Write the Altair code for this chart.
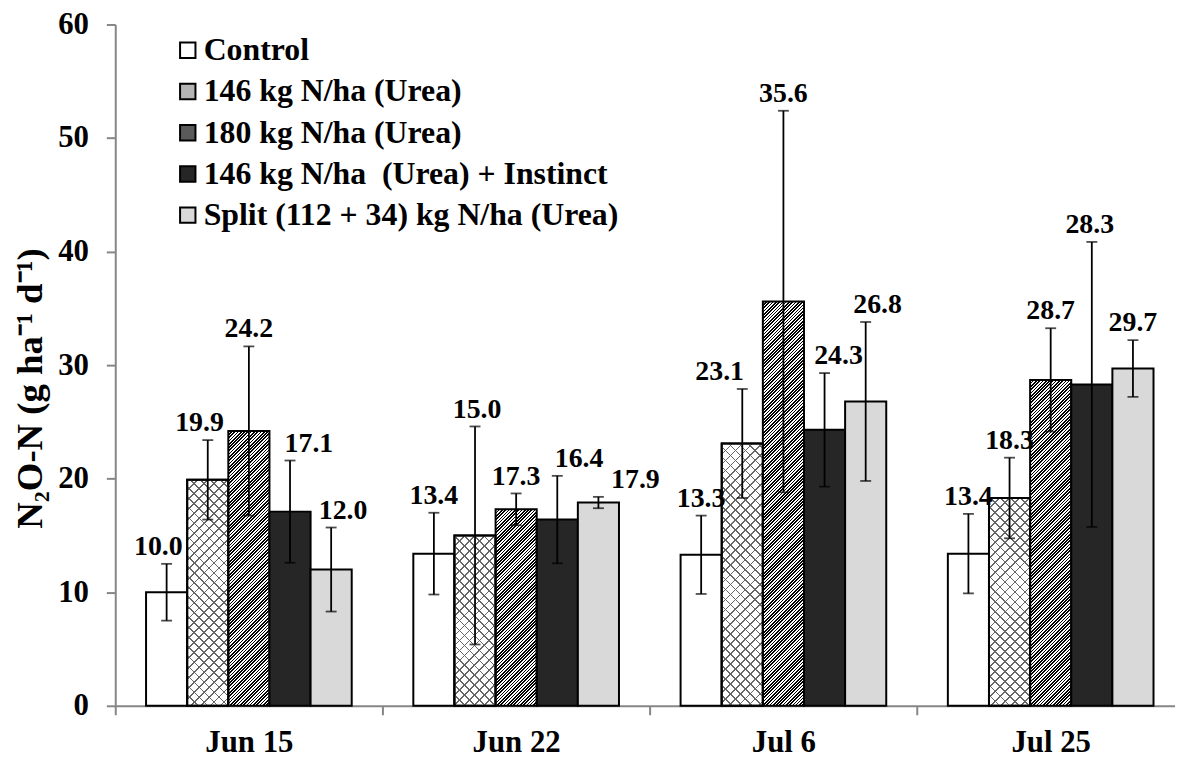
import math
import altair as alt

# ---------------- data ----------------
dates = ["Jun 15", "Jun 22", "Jul 6", "Jul 25"]
series = [
    "Control",
    "146 kg N/ha (Urea)",
    "180 kg N/ha (Urea)",
    "146 kg N/ha\u00a0 (Urea) + Instinct",
    "Split (112 + 34) kg N/ha (Urea)",
]
control = [10.0, 13.4, 13.3, 13.4]
urea146 = [19.9, 15.0, 23.1, 18.3]
urea180 = [24.2, 17.3, 35.6, 28.7]
instinct = [17.1, 16.4, 24.3, 28.3]
split = [12.0, 17.9, 26.8, 29.7]

control_err = [2.5, 3.6, 3.45, 3.5]
urea146_err = [3.5, 9.6, 4.8, 3.55]
urea180_err = [7.45, 1.4, 16.8, 4.55]
instinct_err = [4.5, 3.85, 5.0, 12.55]
split_err = [3.7, 0.5, 7.0, 2.5]

# sideways shift of each value label, in bar widths (as placed in the reference)
control_lshift = [-0.2, 0.0, 0.0, 0.0]
urea146_lshift = [-0.2, 0.05, -0.55, 0.0]
urea180_lshift = [0.0, 0.0, 0.0, 0.0]
instinct_lshift = [0.46, 0.53, 0.34, -0.05]
split_lshift = [0.29, 0.9, 0.29, 0.0]

y_ticks = [0, 10, 20, 30, 40, 50, 60]

values = [control, urea146, urea180, instinct, split]
errors = [control_err, urea146_err, urea180_err, instinct_err, split_err]
lshifts = [control_lshift, urea146_lshift, urea180_lshift, instinct_lshift, split_lshift]

# ---------------- layout / style ----------------
FONT = "Liberation Serif"
W, H = 1067, 686
Y_MAX = 60
PAD_INNER, PAD_OUTER, ALIGN = 0.2305, 0.0978, 0.589
STEP = W / (len(dates) - PAD_INNER + 2 * PAD_OUTER)
BAND = STEP * (1 - PAD_INNER)
BAR_W = BAND / len(series)
PX_PER_UNIT = H / Y_MAX
AXIS_GRAY = "#868686"
legend_colors = ["#ffffff", "#b4b4b4", "#5a5a5a", "#262626", "#d9d9d9"]


def stripes(w, h, period, frac, line, bg, up=True):
    """Linear gradient that draws 45 degree stripes on a w x h box."""
    L = w + h
    k = L / (w * w + h * h)
    if up:
        x1, y1, x2, y2 = 0, 0, k * w, k * h
    else:
        x1, y1, x2, y2 = 0, 1, k * w, 1 - k * h
    stops = []
    i = 0
    while i * period < L:
        a = i * period / L
        b = min(1.0, (i + frac) * period / L)
        c = min(1.0, (i + 1) * period / L)
        stops += [
            {"offset": a, "color": line},
            {"offset": b, "color": line},
            {"offset": b, "color": bg},
            {"offset": c, "color": bg},
        ]
        i += 1
    return {"gradient": "linear", "x1": x1, "y1": y1, "x2": x2, "y2": y2, "stops": stops}


rows = []
for i, d in enumerate(dates):
    for j, s in enumerate(series):
        v = values[j][i]
        e = errors[j][i]
        h = v * PX_PER_UNIT
        if j == 1:
            g1 = stripes(BAR_W, h, 10.0, 0.17, "#666666", "#ffffff", up=True)
            g2 = stripes(BAR_W, h, 10.0, 0.17, "#666666", "rgba(255,255,255,0)", up=False)
        elif j == 2:
            g1 = stripes(BAR_W, h, 3.3, 0.5, "#000000", "#ffffff", up=True)
            g2 = "rgba(0,0,0,0)"
        else:
            g1 = ["#ffffff", None, None, "#262626", "#d9d9d9"][j]
            g2 = "rgba(0,0,0,0)"
        rows.append({
            "date": d, "series": s, "value": v,
            "low": v - e, "high": v + e,
            "label": f"{v:.1f}", "lpos": j + 0.5 + lshifts[j][i],
            "g1": g1, "g2": g2,
        })

data = alt.Data(values=rows)

x_enc = alt.X(
    "date:N", sort=dates,
    scale=alt.Scale(domain=dates, paddingInner=PAD_INNER, paddingOuter=PAD_OUTER, align=ALIGN),
    axis=alt.Axis(
        title=None, labelAngle=0, labelFont=FONT, labelFontSize=31, labelFontWeight="bold",
        labelColor="black", labelPadding=13, domainColor=AXIS_GRAY, domainWidth=2,
        tickColor=AXIS_GRAY, tickWidth=2, tickSize=9, bandPosition=0,
        tickOffset=-PAD_INNER * STEP / 2, labelOffset=PAD_INNER * STEP / 2,
        grid=False,
    ),
)
xo_enc = alt.XOffset(
    "series:N", sort=series,
    scale=alt.Scale(domain=series, paddingInner=0, paddingOuter=0),
)
y_scale = alt.Scale(domain=[0, Y_MAX], nice=False)
y_enc = alt.Y(
    "value:Q", scale=y_scale,
    axis=alt.Axis(
        values=y_ticks, title="N\u2082O-N (g ha\u207b\u00b9 d\u207b\u00b9)",
        titleFont=FONT, titleFontSize=37, titleFontWeight="bold", titleColor="black",
        titlePadding=8, titleY=366,
        labelFont=FONT, labelFontSize=31, labelFontWeight="bold", labelColor="black",
        labelPadding=18, domainColor=AXIS_GRAY, domainWidth=2, tickColor=AXIS_GRAY,
        tickWidth=2, tickSize=9, grid=False,
    ),
)

base = alt.Chart(data).mark_bar(strokeWidth=0).encode(
    x=x_enc, xOffset=xo_enc, y=y_enc,
    color=alt.Color(
        "series:N", sort=series,
        scale=alt.Scale(domain=series, range=legend_colors),
        legend=alt.Legend(
            title=None, orient="none", legendX=57, legendY=10, padding=0,
            symbolType="square", symbolSize=240, symbolStrokeColor="black",
            symbolStrokeWidth=2, symbolOpacity=1, labelFont=FONT, labelFontSize=32,
            labelFontWeight="bold", labelColor="black", labelOffset=0, rowPadding=9.5,
            labelLimit=0,
        ),
    ),
)

hatch1 = alt.Chart(data).mark_bar(stroke="black", strokeWidth=2).encode(
    x=x_enc, xOffset=xo_enc, y=y_enc,
    fill=alt.Fill("g1:N", scale=None),
)

hatch2 = alt.Chart(data).transform_filter(
    alt.datum.series == series[1]
).mark_bar(stroke="black", strokeWidth=2).encode(
    x=x_enc, xOffset=xo_enc, y=y_enc,
    fill=alt.Fill("g2:N", scale=None),
)

err_rule = alt.Chart(data).mark_rule(color="black", strokeWidth=1.8).encode(
    x=x_enc, xOffset=xo_enc, y=alt.Y("low:Q", scale=y_scale), y2="high:Q",
)
cap_low = alt.Chart(data).mark_tick(color="black", size=11, thickness=1.8, orient="horizontal").encode(
    x=x_enc, xOffset=xo_enc, y=alt.Y("low:Q", scale=y_scale),
)
cap_high = alt.Chart(data).mark_tick(color="black", size=11, thickness=1.8, orient="horizontal").encode(
    x=x_enc, xOffset=xo_enc, y=alt.Y("high:Q", scale=y_scale),
)
labels = alt.Chart(data).mark_text(
    font=FONT, fontSize=28, fontWeight="bold", color="black", baseline="bottom", dy=-3,
).encode(
    x=x_enc,
    xOffset=alt.XOffset("lpos:Q", scale=alt.Scale(domain=[0, len(series)], range=[0, BAND])),
    y=alt.Y("high:Q", scale=y_scale), text="label:N",
)

chart = alt.layer(base, hatch1, hatch2, err_rule, cap_low, cap_high, labels).resolve_scale(
    xOffset="independent"
).properties(
    width=W, height=H,
    autosize=alt.AutoSizeParams(type="none"),
    padding={"left": 108, "top": 14, "right": 0, "bottom": 53},
    background="white",
).configure_view(stroke=None)

chart.save("out.html", embed_options={"renderer": "svg", "actions": False})
